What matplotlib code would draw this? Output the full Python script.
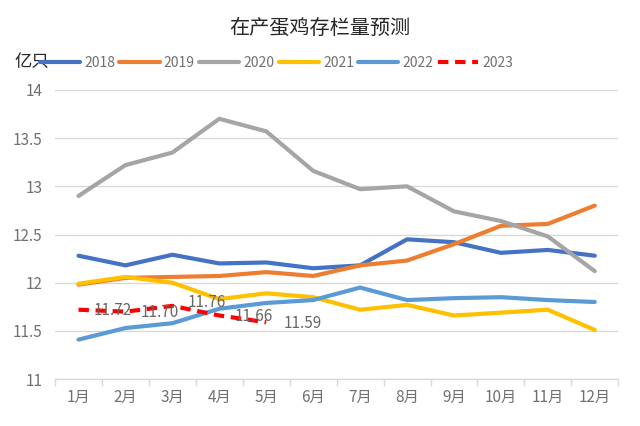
import matplotlib
matplotlib.use("Agg")
import matplotlib.pyplot as plt

plt.rcParams['font.family'] = ['Noto Sans CJK SC', 'DejaVu Sans']

months = ['1月', '2月', '3月', '4月', '5月', '6月', '7月', '8月', '9月', '10月', '11月', '12月']

y2018 = [12.28, 12.18, 12.29, 12.20, 12.21, 12.15, 12.18, 12.45, 12.42, 12.31, 12.34, 12.28]
y2019 = [11.98, 12.05, 12.06, 12.07, 12.11, 12.07, 12.18, 12.23, 12.40, 12.59, 12.61, 12.80]
y2020 = [12.90, 13.22, 13.35, 13.70, 13.57, 13.16, 12.97, 13.00, 12.74, 12.64, 12.48, 12.12]
y2021 = [11.99, 12.06, 12.00, 11.83, 11.89, 11.85, 11.72, 11.77, 11.66, 11.69, 11.72, 11.51]
y2022 = [11.41, 11.53, 11.58, 11.73, 11.79, 11.82, 11.95, 11.82, 11.84, 11.85, 11.82, 11.80]
y2023 = [11.72, 11.70, 11.76, 11.66, 11.59]

series = [
    ('2018', y2018, '#4472C4'),
    ('2019', y2019, '#ED7D31'),
    ('2020', y2020, '#A5A5A5'),
    ('2021', y2021, '#FFC000'),
    ('2022', y2022, '#5B9BD5'),
]

fig = plt.figure(figsize=(6.4, 4.26), dpi=100)
ax = fig.add_axes([0.086, 0.110, 0.880, 0.679])

x = list(range(len(months)))
for name, vals, color in series:
    ax.plot(x, vals, color=color, lw=3, label=name, solid_capstyle='round')
x23 = list(range(len(y2023)))
ax.plot(x23, y2023, color='#FF0000', lw=3, ls=(0, (2.5, 1.6)), label='2023')

# data labels for 2023
for i, v in enumerate(y2023):
    dx = 0.33 if i < 4 else 0.38
    dy = 0.04 if i == 2 else -0.01
    ax.text(i + dx, v + dy, f'{v:.2f}', fontsize=11, color='#666666',
            ha='left', va='center')

ax.set_xlim(-0.5, 11.5)
ax.set_ylim(11, 14)
ax.set_yticks([11, 11.5, 12, 12.5, 13, 13.5, 14])
ax.set_yticklabels(['11', '11.5', '12', '12.5', '13', '13.5', '14'])
ax.set_xticks(x)
ax.set_xticklabels(months)
ax.set_xticks([i - 0.5 for i in range(13)], minor=True)
ax.tick_params(axis='x', which='major', length=0, pad=7, labelsize=11, colors='#707070')
ax.tick_params(axis='x', which='minor', length=5, color='#d9d9d9', width=1)
ax.tick_params(axis='y', length=0, pad=9, labelsize=11, colors='#707070')
ax.grid(axis='y', color='#d9d9d9', lw=1)
ax.set_axisbelow(True)
for s in ['top', 'right', 'left']:
    ax.spines[s].set_visible(False)
ax.spines['bottom'].set_color('#d9d9d9')
ax.spines['bottom'].set_linewidth(1)

fig.text(0.5, 0.934, '在产蛋鸡存栏量预测', ha='center', va='center', fontsize=14.5, color='#262626')
fig.text(0.022, 0.855, '亿只', ha='left', va='center', fontsize=12.5, color='#262626')

fig.legend(loc='center left', bbox_to_anchor=(0.062, 0.853), ncol=6, frameon=False,
           fontsize=10, handlelength=2.9, handletextpad=0.3, columnspacing=0.3,
           labelcolor='#707070', borderaxespad=0, borderpad=0)

fig.savefig('out.png', dpi=100)
